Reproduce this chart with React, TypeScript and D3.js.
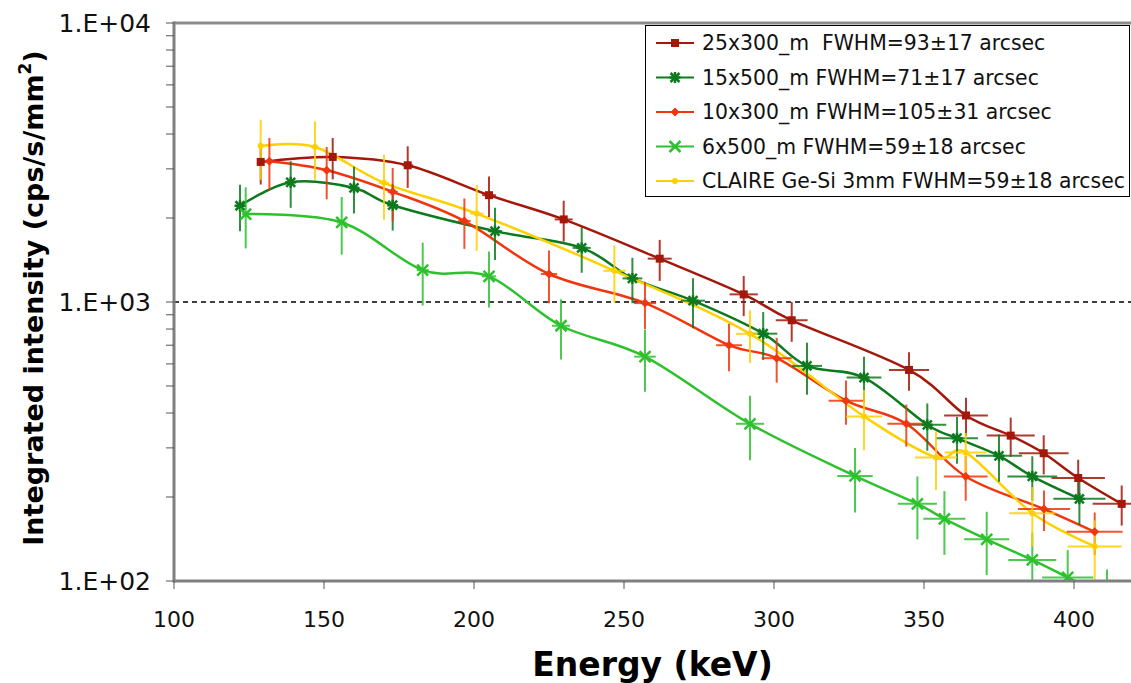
import React from "react";
import * as d3 from "d3";

// ---------- data ----------
const seriesNames = [
  "25x300_m  FWHM=93±17 arcsec",
  "15x500_m FWHM=71±17 arcsec",
  "10x300_m FWHM=105±31 arcsec",
  "6x500_m FWHM=59±18 arcsec",
  "CLAIRE Ge-Si 3mm FWHM=59±18 arcsec",
];

const darkRedE = [128.9, 152.9, 177.9, 205, 229.9, 261.9, 289.9, 305.9, 345, 364, 378.9, 389.9, 401.4, 415.9];
const darkRedV = [3177, 3311, 3090, 2415, 1977, 1430, 1065, 860, 571, 392, 332, 287, 234, 189];
const darkRedYErr = [540, 560, 525, 400, 330, 240, 175, 140, 90, 62, 53, 46, 38, 31];
const darkRedXErr = [1, 1.3, 1.8, 2.3, 3, 4, 4.7, 5.3, 6.7, 7.3, 8, 8.3, 8.9, 9.7];

const darkGreenE = [122, 138.9, 160, 172.9, 207, 235.9, 252.8, 273, 296.4, 311, 330, 351.1, 361, 375, 386.1, 401.8];
const darkGreenV = [2213, 2685, 2564, 2223, 1795, 1563, 1215, 1011, 770, 590, 536, 363, 325, 281, 237, 197];
const darkGreenYErr = [420, 510, 490, 420, 380, 290, 225, 205, 150, 125, 100, 70, 62, 54, 43, 38];
const darkGreenXErr = [1, 1.2, 1.5, 1.7, 2.4, 3, 3.3, 4, 4.7, 5, 5.8, 6.3, 7, 7.7, 8.3, 8.7];

const redE = [131.8, 150.9, 172.9, 196.8, 225, 257, 285, 300.9, 324, 344.1, 363.9, 390, 406.9];
const redV = [3193, 2965, 2483, 1950, 1260, 991, 700, 629, 443, 366, 237, 181, 150];
const redYErr = [680, 630, 540, 400, 270, 190, 135, 115, 80, 63, 43, 30, 26];
const redXErr = [1, 1.3, 1.7, 2.1, 2.7, 3.7, 4.3, 5, 5.8, 6.3, 7.3, 8.7, 9.3];

const lightGreenE = [123.9, 155.9, 182.9, 205, 229, 257, 292, 327, 347.8, 356.8, 370.9, 386.1, 397.9, 411];
const lightGreenV = [2066, 1928, 1301, 1236, 822, 637, 366, 238, 189, 167, 141, 119, 103, 88];
const lightGreenYErr = [510, 450, 330, 280, 200, 160, 95, 62, 48, 43, 36, 30, 26, 22];
const lightGreenXErr = [1.2, 1.6, 2, 2.4, 3, 3.6, 4.7, 5.9, 6.5, 7, 7.5, 8, 8.5, 9];

const yellowE = [128.9, 147, 170, 200.9, 246.8, 292, 330, 354, 363.9, 386.1, 406.9];
const yellowV = [3622, 3595, 2673, 2075, 1294, 769, 389, 277, 289, 175, 133];
const yellowYErr = [880, 850, 700, 550, 300, 165, 95, 65, 50, 42, 32];
const yellowXErr = [1, 1.3, 1.7, 2.2, 3.7, 4.7, 6, 7, 7, 7.7, 9];

const xTicks = [100, 150, 200, 250, 300, 350, 400];
const yMajor = [100, 1000, 10000];
const yMajorLabels = ["1.E+02", "1.E+03", "1.E+04"];

const colors = ["#A3180A", "#0E7A1E", "#F0360E", "#2EC12E", "#FFD000"];
const markers = ["square", "star", "diamond", "x", "dot"];

const series = [
  { e: darkRedE, v: darkRedV, ye: darkRedYErr, xe: darkRedXErr },
  { e: darkGreenE, v: darkGreenV, ye: darkGreenYErr, xe: darkGreenXErr },
  { e: redE, v: redV, ye: redYErr, xe: redXErr },
  { e: lightGreenE, v: lightGreenV, ye: lightGreenYErr, xe: lightGreenXErr },
  { e: yellowE, v: yellowV, ye: yellowYErr, xe: yellowXErr },
].map((s, i) => ({ ...s, name: seriesNames[i], color: colors[i], marker: markers[i] }));

// ---------- layout ----------
const W = 1131;
const H = 683;
const left = 174;
const right = 1131;
const top = 23;
const bottom = 581;

const x = d3.scaleLinear().domain([100, 400]).range([left, 1074]);
const y = d3.scaleLog().domain([100, 10000]).range([bottom, top]);

const FONT = "'DejaVu Sans', Verdana, sans-serif";

function Marker({ type, cx, cy, color }: { type: string; cx: number; cy: number; color: string }) {
  if (type === "square") {
    return <rect x={cx - 4} y={cy - 4} width={8} height={8} fill={color} />;
  }
  if (type === "diamond") {
    const r = 4.5;
    return <path d={`M${cx},${cy - r}L${cx + r},${cy}L${cx},${cy + r}L${cx - r},${cy}Z`} fill={color} />;
  }
  if (type === "star") {
    const r = 4.5;
    return (
      <g stroke={color} strokeWidth={2.5}>
        <line x1={cx - r} y1={cy - r} x2={cx + r} y2={cy + r} />
        <line x1={cx - r} y1={cy + r} x2={cx + r} y2={cy - r} />
        <line x1={cx} y1={cy - r - 1} x2={cx} y2={cy + r + 1} />
        <line x1={cx - r - 1} y1={cy} x2={cx + r + 1} y2={cy} />
      </g>
    );
  }
  if (type === "x") {
    const r = 5.5;
    return (
      <g stroke={color} strokeWidth={2.5}>
        <line x1={cx - r} y1={cy - r} x2={cx + r} y2={cy + r} />
        <line x1={cx - r} y1={cy + r} x2={cx + r} y2={cy - r} />
      </g>
    );
  }
  return <circle cx={cx} cy={cy} r={3} fill={color} />;
}

export default function App() {
  const line = d3
    .line<[number, number]>()
    .x((d) => x(d[0]))
    .y((d) => y(d[1]))
    .curve(d3.curveCatmullRom.alpha(0));

  const legendRows = [43, 77.5, 112, 146.5, 181];

  return (
    <svg
      width={W}
      height={H}
      style={{ position: "absolute", left: 0, top: 0, background: "#fff" }}
      fontFamily={FONT}
    >
      <defs>
        <clipPath id="plotClip">
          <rect x={left} y={top} width={right - left} height={bottom - top} />
        </clipPath>
      </defs>
      <rect x={0} y={0} width={W} height={H} fill="#fff" />

      {/* dashed line at 1E+03 */}
      <line x1={left} x2={right} y1={y(1000)} y2={y(1000)} stroke="#000" strokeWidth={1.5} strokeDasharray="5,4" />

      <g clipPath="url(#plotClip)">
        {series.map((s, i) => (
          <path
            key={"l" + i}
            d={line(s.e.map((e, j) => [e, s.v[j]] as [number, number])) || ""}
            fill="none"
            stroke={s.color}
            strokeWidth={2.5}
          />
        ))}
        {series.map((s, i) => (
          <g key={"e" + i} stroke={s.color} strokeWidth={2} opacity={0.85}>
            {s.e.map((e, j) => (
              <g key={j}>
                <line x1={x(e)} x2={x(e)} y1={y(s.v[j] + s.ye[j])} y2={y(Math.max(1, s.v[j] - s.ye[j]))} />
                <line x1={x(e - s.xe[j])} x2={x(e + s.xe[j])} y1={y(s.v[j])} y2={y(s.v[j])} />
              </g>
            ))}
          </g>
        ))}
        {series.map((s, i) => (
          <g key={"m" + i}>
            {s.e.map((e, j) => (
              <Marker key={j} type={s.marker} cx={x(e)} cy={y(s.v[j])} color={s.color} />
            ))}
          </g>
        ))}
      </g>

      {/* axes */}
      <line x1={left} x2={right} y1={top} y2={top} stroke="#8c8c8c" strokeWidth={3} />
      <line x1={left} x2={left} y1={top - 1.5} y2={bottom + 1.5} stroke="#808080" strokeWidth={3} />
      <line x1={left} x2={right} y1={bottom} y2={bottom} stroke="#808080" strokeWidth={3} />

      {y.ticks().map((t, i) => (
        <line key={"yt" + i} x1={left - 8} x2={left} y1={y(t)} y2={y(t)} stroke="#555" strokeWidth={1} />
      ))}
      {yMajor.map((t, i) => (
        <text key={"yl" + i} x={151} y={y(t)} dy="0.36em" textAnchor="end" fontSize={25} fill="#111">
          {yMajorLabels[i]}
        </text>
      ))}

      {xTicks.map((t, i) => (
        <g key={"xt" + i}>
          <line x1={x(t)} x2={x(t)} y1={bottom} y2={bottom + 8} stroke="#555" strokeWidth={1} />
          <text x={x(t)} y={627} textAnchor="middle" fontSize={22} fill="#111">
            {t}
          </text>
        </g>
      ))}

      {/* axis titles */}
      <text x={(left + right) / 2} y={676} textAnchor="middle" fontSize={33} fontWeight="bold" fill="#000">
        Energy (keV)
      </text>
      <text
        transform="rotate(-90)"
        x={-298}
        y={43}
        textAnchor="middle"
        fontSize={27}
        fontWeight="bold"
        fill="#000"
      >
        Integrated intensity (cps/s/mm
        <tspan fontSize={17} dy={-12}>2</tspan>
        <tspan dy={12}>)</tspan>
      </text>

      {/* legend */}
      <rect x={645.5} y={25.5} width={484} height={171} fill="#fff" stroke="#000" strokeWidth={1} />
      {series.map((s, i) => (
        <g key={"lg" + i}>
          <line x1={656} x2={694} y1={legendRows[i]} y2={legendRows[i]} stroke={s.color} strokeWidth={2} />
          <Marker type={s.marker} cx={675} cy={legendRows[i]} color={s.color} />
          <text x={702} y={legendRows[i]} dy="0.36em" fontSize={20.4} fill="#111" style={{ whiteSpace: "pre" }}>
            {s.name}
          </text>
        </g>
      ))}
    </svg>
  );
}
